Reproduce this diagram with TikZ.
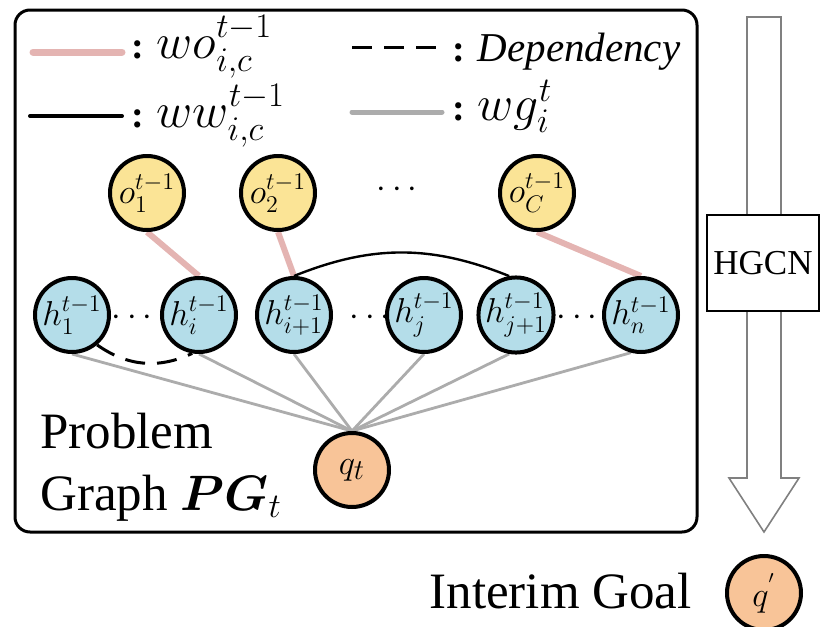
\documentclass[tikz,border=0pt]{standalone}
\usepackage{amsmath}
\usepackage{fontspec}
\setmainfont{Liberation Serif}
\usetikzlibrary{backgrounds}

\definecolor{obsyellow}{RGB}{251,228,150}
\definecolor{hidblue}{RGB}{180,221,233}
\definecolor{goalorange}{RGB}{248,196,152}
\definecolor{wopink}{RGB}{228,180,178}
\definecolor{wggray}{RGB}{172,172,172}

\begin{document}
\begin{tikzpicture}[x=0.5pt,y=-0.5pt,
  vtx/.style={circle,draw=black,line width=2pt,minimum size=37pt,inner sep=0pt,
    font=\fontsize{17}{18}\selectfont},
  obsnode/.style={vtx,fill=obsyellow},
  hidnode/.style={vtx,fill=hidblue},
  goalnode/.style={vtx,fill=goalorange,font=\fontsize{19}{20}\selectfont},
  dotsnode/.style={inner sep=0pt,font=\fontsize{16.5}{18}\selectfont},
  woline/.style={wopink,line width=3pt},
  wwline/.style={black,line width=1.2pt},
  wgline/.style={wggray,line width=1.4pt},
  depline/.style={black,line width=1.5pt,dash pattern=on 10pt off 6pt},
  legtext/.style={anchor=base west,inner sep=0pt,font=\fontsize{23}{24}\selectfont},
  bigtext/.style={anchor=base west,inner sep=0pt,font=\fontsize{25.5}{31}\selectfont}
]
  \useasboundingbox (0,0) rectangle (820,627);

  % --- frame of the problem graph ---
  \draw[line width=1.5pt,rounded corners=7.5pt] (15,10) rectangle (697,532);

  % --- legend ---
  \coordinate (l1a) at (33,52);  \coordinate (l1b) at (122,52);
  \coordinate (l2a) at (30,116); \coordinate (l2b) at (122,116);
  \coordinate (l3a) at (352,47); \coordinate (l3b) at (442,47);
  \coordinate (l4a) at (352,112); \coordinate (l4b) at (442,112);
  \draw[woline,line width=3.5pt,line cap=round] (l1a) -- (l1b);
  \draw[wwline,line width=2pt,line cap=round] (l2a) -- (l2b);
  \draw[depline] (l3a) -- (l3b);
  \draw[wgline,line width=2.5pt,line cap=round] (l4a) -- (l4b);
  \node[legtext] (lwo) at (131,58) {\fontsize{19}{20}\selectfont\textbf{:} \fontsize{23}{24}\selectfont$wo^{t-1}_{i,c}$};
  \node[legtext] (lww) at (131,127) {\fontsize{19}{20}\selectfont\textbf{:} \fontsize{23}{24}\selectfont$ww^{t-1}_{i,c}$};
  \node[legtext] (ldep) at (452,61) {\fontsize{19}{20}\selectfont\textbf{:} \fontsize{20.5}{21}\selectfont\textit{Dependency}};
  \node[legtext] (lwg) at (452,120) {\fontsize{19}{20}\selectfont\textbf{:} \fontsize{23}{24}\selectfont$wg^{t}_{i}$};

  % 観測ノード
  \node[obsnode] (o1) at (147,193) {$o^{t-1}_1$};
  \node[obsnode] (o2) at (278,193) {$o^{t-1}_2$};
  \node[dotsnode] (odots) at (400,190) {$\cdots$};
  \node[obsnode] (oC) at (537,193) {$o^{t-1}_C$};

  % 隠れノード
  \node[hidnode] (h1) at (72,315) {$h^{t-1}_1$};
  \node[dotsnode] (hdots1) at (135,318) {$\cdots$};
  \node[hidnode] (hi) at (199,315) {$h^{t-1}_i$};
  \node[hidnode] (hi1) at (294,315) {$h^{t-1}_{i+1}$};
  \node[dotsnode] (hdots2) at (373,318) {$\cdots$};
  \node[hidnode] (hj) at (424,315) {$h^{t-1}_j$};
  \node[hidnode] (hj1) at (516,315) {$h^{t-1}_{j+1}$};
  \node[dotsnode] (hdots3) at (580,318) {$\cdots$};
  \node[hidnode] (hn) at (641,315) {$h^{t-1}_n$};

  \node[goalnode] (q) at (352,470) {$q_t$};

  \node[bigtext] (prob) at (40,448) {Problem};
  \node[bigtext] (graph) at (40,510) {Graph $\boldsymbol{PG}_t$};

  % edges behind the nodes
  \begin{scope}[on background layer]
    \draw[woline] (o1.south) -- (hi.north);
    \draw[woline] (o2.south) -- (hi1.north);
    \draw[woline] (oC.south) -- (hn.north);
    \draw[wwline] (hi1.north) to[bend left=22] (hj1.100);
    \draw[depline] (h1.-50) to[bend right=30] (hi.-100);
    \foreach \h/\a in {h1/-90,hi/-90,hi1/-90,hj/-90,hj1/-100,hn/-105}
      \draw[wgline] (\h.\a) -- (q.north);
  \end{scope}

  % --- HGCN arrow ---
  \draw[gray,line width=0.8pt,fill=white] (747,17) -- (781,17) -- (781,478) -- (799,478)
    -- (764,532) -- (729,478) -- (747,478) -- cycle;
  \node[draw=black,line width=1pt,fill=white,minimum width=55pt,minimum height=48pt,
    font=\fontsize{17.5}{18}\selectfont] (hgcn) at (763,263) {HGCN};

  % --- interim goal ---
  \node[goalnode] (qp) at (764,593) {$q^{'}$};
  \node[bigtext,anchor=base east] (interim) at (692,608) {Interim Goal};
\end{tikzpicture}
\end{document}
